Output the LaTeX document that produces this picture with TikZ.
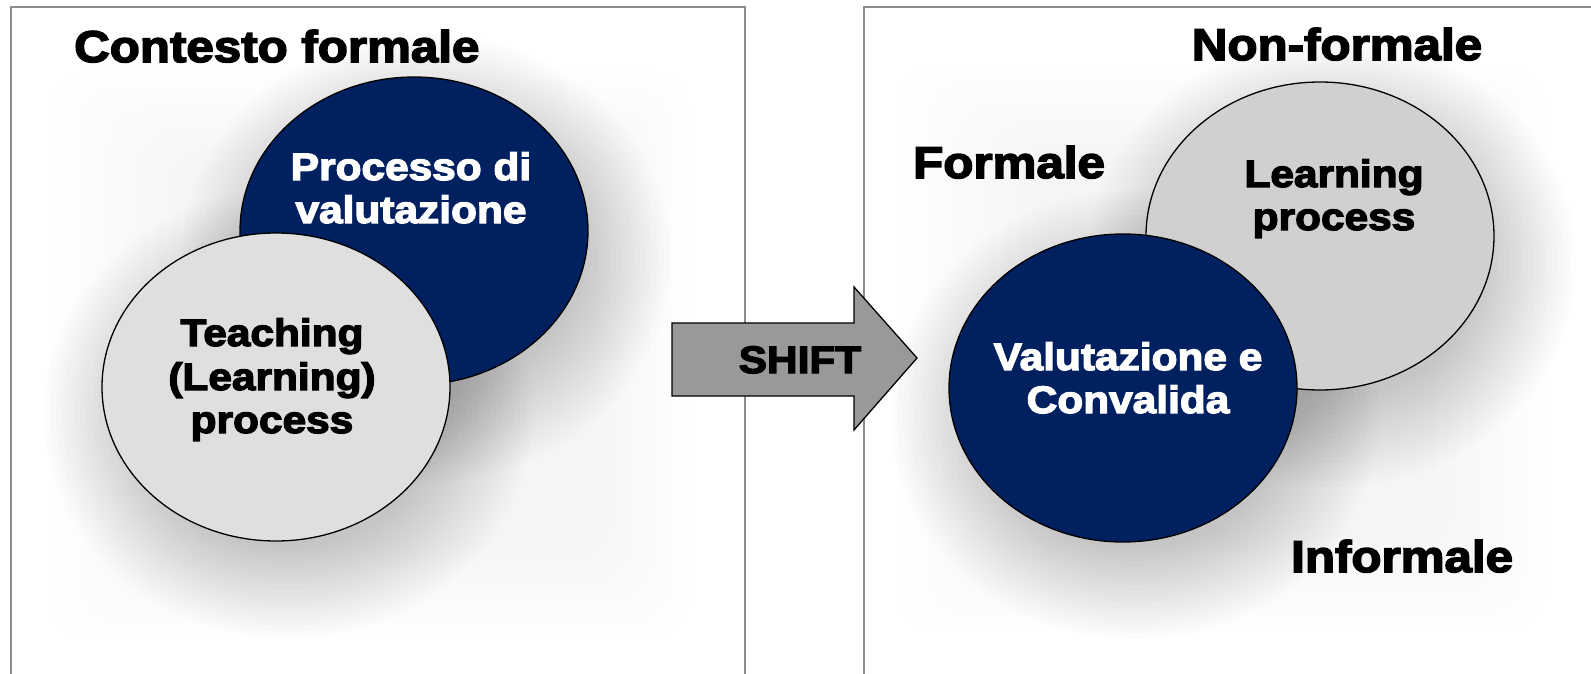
\documentclass[tikz,border=0pt]{standalone}
\usepackage{fontspec}
\setmainfont{Liberation Sans}
\newfontfamily\heavy{Liberation Sans}[UprightFont={* Bold}, UprightFeatures={FakeBold=3.5}, FakeStretch=1.11]
\usetikzlibrary{shapes.geometric}
\definecolor{navy}{HTML}{002060}
\definecolor{boxgray}{HTML}{8C8C8C}
\definecolor{lightell}{HTML}{DFDFDF}
\definecolor{midell}{HTML}{D0D0D0}
\definecolor{arrowgray}{HTML}{999999}
\tikzset{
  boxline/.style={draw=boxgray, line width=1.5pt},
  ell/.style={ellipse, draw=black, line width=1.3pt, minimum width=348pt, minimum height=308pt, inner sep=0pt},
  bigtext/.style={font=\heavy\fontsize{44.4}{50}\selectfont, inner sep=0pt, anchor=base},
  smalltext/.style={font=\heavy\fontsize{38.2}{44}\selectfont, inner sep=0pt, anchor=base},
  faintlayer/.style={fill=black, fill opacity=0.005, rounded corners=45pt},
  blurlayer/.style={fill=black, fill opacity=0.0105},
}
\newcommand{\ellshadow}[2]{%
  \foreach \k in {0,...,15}{
    \fill[blurlayer] (#1,#2) ellipse [x radius={154+6*\k}, y radius={134+6*\k}];
  }%
}
\begin{document}
\begin{tikzpicture}[x=1pt,y=-1pt]
\path[use as bounding box] (0,0) rectangle (1591,674);
\clip (0,0) rectangle (1591,674);
\fill[white] (0,0) rectangle (1591,674);

% left panel
\fill[white] (11,7) rectangle (745,690);
\foreach \i in {0,...,9}{
  \fill[faintlayer] ({50+15*\i},{70+10*\i}) rectangle ({690-10*\i},{640-10*\i});
}
\ellshadow{426}{258}
\ellshadow{288}{414}
\draw[boxline] (11,690) -- (11,7) -- (745,7) -- (745,690);

% right panel
\fill[white] (864,7) rectangle (1600,690);
\foreach \i in {0,...,9}{
  \fill[faintlayer] ({898+15*\i},{64+10*\i}) rectangle ({1545-12*\i},{632-10*\i});
}
\ellshadow{1332}{263}
\ellshadow{1135}{415}
\draw[boxline] (864,690) -- (864,7) -- (1600,7);

% left ellipses
\node[ell, fill=navy] (pv) at (414,231) {};
\node[ell, fill=lightell] (tl) at (276,387) {};
\node[bigtext, anchor=base west] (cf) at (74,62) {Contesto formale};
\node[smalltext, text=white] (pv1) at (411,180) {Processo di};
\node[smalltext, text=white] (pv2) at (411,223) {valutazione};
\node[smalltext] (t1) at (272,346) {Teaching};
\node[smalltext] (t2) at (272,390) {(Learning)};
\node[smalltext] (t3) at (272,433) {process};

% right ellipses
\node[ell, fill=midell] (lp) at (1320,236) {};
\node[ell, fill=navy] (vc) at (1123,388) {};
\node[bigtext] (nf) at (1337,60) {Non-formale};
\node[bigtext, anchor=base west] (fo) at (913,178) {Formale};
\node[bigtext, anchor=base west] (inf) at (1291,572) {Informale};
\node[smalltext] (lp1) at (1334,187) {Learning};
\node[smalltext] (lp2) at (1334,230) {process};
\node[smalltext, text=white] (vc1) at (1128,370) {Valutazione e};
\node[smalltext, text=white] (vc2) at (1128,413) {Convalida};

% shift arrow
\filldraw[fill=arrowgray, draw=black, line width=1.3pt, line join=miter]
  (672,323) -- (854,323) -- (854,287) -- (917,358) -- (854,430) -- (854,396) -- (672,396) -- cycle;
\node[smalltext] (sh) at (800,373) {SHIFT};
\end{tikzpicture}
\end{document}
